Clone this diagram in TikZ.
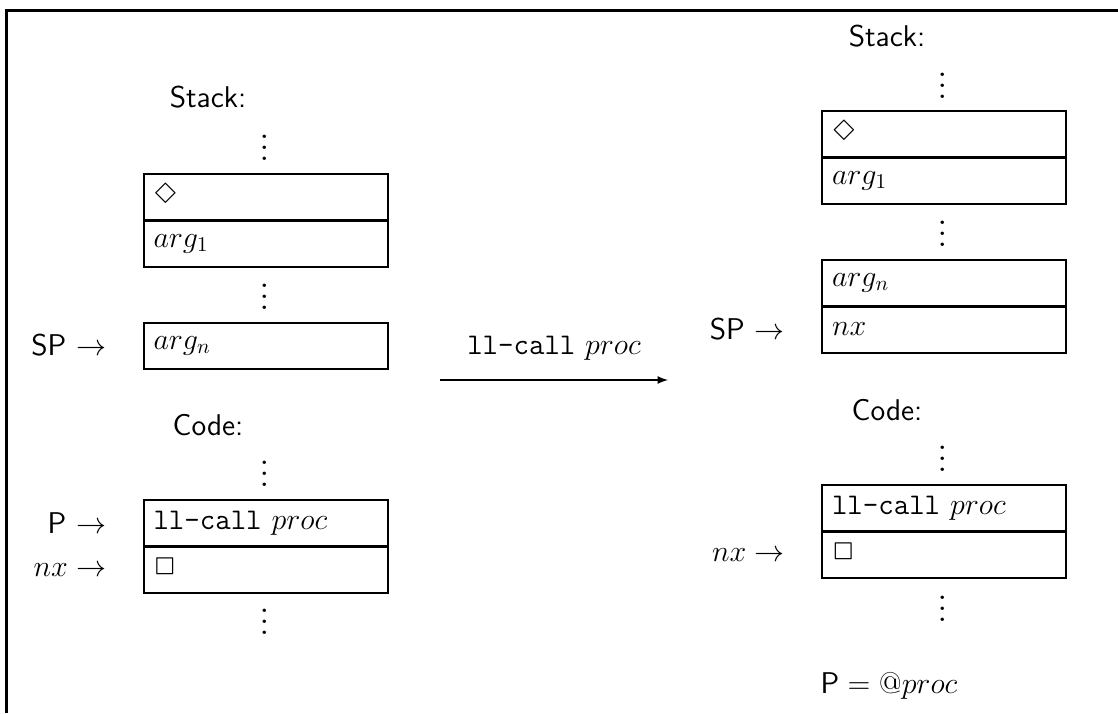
\documentclass[tikz,border=0pt]{standalone}
\usepackage{fix-cm}
\usepackage{amsmath}
\usepackage{latexsym}
\usetikzlibrary{positioning}
\newcommand{\stackdots}{\vbox{\rmfamily\fontsize{21}{21}\selectfont\baselineskip=5.5pt \lineskiplimit=0pt \hbox{.}\hbox{.}\hbox{.}}}

\begin{document}
\begin{tikzpicture}[x=0.5pt, y=-0.5pt, node distance=23.5pt, every node/.style={font=\fontsize{15}{18}\selectfont\sffamily}, cell/.style={rectangle, draw, line width=1pt, minimum width=122pt, minimum height=23pt, text width=112pt, inner xsep=5pt, align=left}, ptr/.style={inner sep=0pt}, more/.style={inner sep=0pt}]

    \useasboundingbox (0,0) rectangle (1118,713);
    \draw[line width=1.5pt] (6.5,713) -- (6.5,10.5) -- (1118,10.5);

    \node (lstack) at (208,97) {Stack:};
    \node[more] (ldots1) at (265,148) {\stackdots};
    \node[cell] (lfrm) at (265.5,196.5) {$\Diamond$};
    \node[cell, below of=lfrm] (larg1) {$arg_1$};
    \node[more] (ldots2) at (265,297) {\stackdots};
    \node[cell] (largn) at (265.5,345.5) {$arg_n$};
    \node[ptr, left=18pt of largn] (lsp) {SP $\rightarrow$};
    \node (lcode) at (208,425) {Code:};
    \node[more] (ldots3) at (265,474) {\stackdots};
    \node[cell] (lcall) at (265.5,523) {\texttt{ll-call} $proc$};
    \node[cell, below of=lcall] (lnext) {$\Box$};
    \node[ptr, left=18pt of lcall] (lp) {P $\rightarrow$};
    \node[ptr, left=18pt of lnext] (lnx) {$nx \rightarrow$};
    \node[more] (ldots4) at (265,622) {\stackdots};

    \node[coordinate] (from) at (440,380) {};
    \node[coordinate] (to) at (668,380) {};

    \node (rstack) at (887,36) {Stack:};
    \node[more] (rdots1) at (943,86) {\stackdots};
    \node[cell] (rfrm) at (944,133.5) {$\Diamond$};
    \node[cell, below of=rfrm] (rarg1) {$arg_1$};
    \node[more] (rdots2) at (943,234) {\stackdots};
    \node[cell] (rargn) at (944,282.5) {$arg_n$};
    \node[cell, below of=rargn] (rret) {$nx$};
    \node[ptr, left=18pt of rret] (rsp) {SP $\rightarrow$};
    \node (rcode) at (887,410) {Code:};
    \node[more] (rdots3) at (943,459) {\stackdots};
    \node[cell] (rcall) at (944,508) {\texttt{ll-call} $proc$};
    \node[cell, below of=rcall] (rnext) {$\Box$};
    \node[ptr, left=18pt of rnext] (rnx) {$nx \rightarrow$};
    \node[more] (rdots4) at (943,609) {\stackdots};
    \node (rpc) at (889,686) {$\textsf{P} = @proc$};

    \draw[-latex, line width=0.8pt] (from) -- node[above=6pt] {\texttt{ll-call} $proc$} (to);

  \end{tikzpicture}
\end{document}
